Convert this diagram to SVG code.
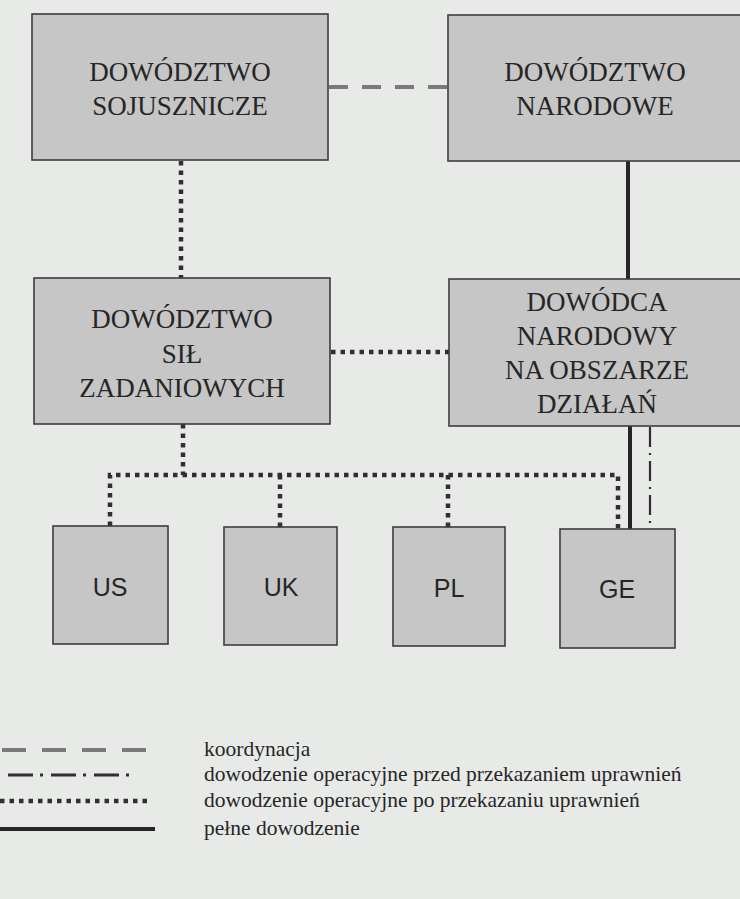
<svg xmlns="http://www.w3.org/2000/svg" width="740" height="899" viewBox="0 0 740 899">
<style>
.bg{fill:#e8eae8}
.box{fill:#c6c6c6;stroke:#3c3c3c;stroke-width:1.6}
.t{font-family:"Liberation Serif","Times New Roman",serif;font-size:27px;fill:#262626;text-anchor:middle}
.s{font-family:"Liberation Sans",Arial,sans-serif;font-size:25px;fill:#262626;text-anchor:middle}
.lg{font-family:"Liberation Serif","Times New Roman",serif;font-size:21.5px;fill:#262626}
.dash{stroke:#7a7a7a;stroke-width:4;stroke-dasharray:19 14;fill:none}
.ldash{stroke:#7a7a7a;stroke-width:4;stroke-dasharray:24 16;fill:none}
.dot{stroke:#2f2f2f;stroke-width:4.5;stroke-dasharray:4.5 5;fill:none}
.solid{stroke:#262626;stroke-width:4;fill:none}
.dd{stroke:#2f2f2f;stroke-width:2.2;stroke-dasharray:20 6 2 6;fill:none}
.ldd{stroke:#2f2f2f;stroke-width:3;stroke-dasharray:25 7 3 8;fill:none}
</style>
<rect class="bg" x="0" y="0" width="740" height="899"/>
<g id="connectors">
<line class="dash" x1="329" y1="87" x2="448" y2="87"/>
<line class="dot" x1="181" y1="161" x2="181" y2="278"/>
<line class="solid" x1="628" y1="161" x2="628" y2="279"/>
<line class="dot" x1="331" y1="352" x2="449" y2="352"/>
<line class="dot" x1="183" y1="424" x2="183" y2="475"/>
<polyline class="dot" points="110,526 110,475 618,475 618,528"/>
<line class="dot" x1="280" y1="475" x2="280" y2="527"/>
<line class="dot" x1="448" y1="475" x2="448" y2="527"/>
<line class="solid" x1="630" y1="426" x2="630" y2="529"/>
<line class="dd" x1="650" y1="427" x2="650" y2="529"/>
</g>
<g id="n-sojusznicze">
<rect class="box" x="32" y="14" width="296" height="146"/>
<text class="t" x="180" y="81">DOWÓDZTWO</text>
<text class="t" x="180" y="115">SOJUSZNICZE</text>
</g>
<g id="n-narodowe">
<rect class="box" x="448" y="15" width="300" height="146"/>
<text class="t" x="595" y="81">DOWÓDZTWO</text>
<text class="t" x="595" y="115">NARODOWE</text>
</g>
<g id="n-sily">
<rect class="box" x="34" y="278" width="296" height="146"/>
<text class="t" x="182" y="328">DOWÓDZTWO</text>
<text class="t" x="182" y="363">SIŁ</text>
<text class="t" x="182" y="397">ZADANIOWYCH</text>
</g>
<g id="n-dowodca">
<rect class="box" x="449" y="279" width="300" height="147"/>
<text class="t" x="597" y="311">DOWÓDCA</text>
<text class="t" x="597" y="345">NARODOWY</text>
<text class="t" x="597" y="379">NA OBSZARZE</text>
<text class="t" x="597" y="413">DZIAŁAŃ</text>
</g>
<g id="n-us">
<rect class="box" x="53" y="526" width="115" height="118"/>
<text class="s" x="110" y="596">US</text>
</g>
<g id="n-uk">
<rect class="box" x="224" y="527" width="113" height="118"/>
<text class="s" x="281" y="596">UK</text>
</g>
<g id="n-pl">
<rect class="box" x="393" y="527" width="112" height="119"/>
<text class="s" x="449" y="597">PL</text>
</g>
<g id="n-ge">
<rect class="box" x="560" y="529" width="115" height="119"/>
<text class="s" x="617" y="598">GE</text>
</g>
<g id="legend">
<line class="ldash" x1="2" y1="750" x2="150" y2="750"/>
<text class="lg" x="204" y="756">koordynacja</text>
<line class="ldd" x1="8" y1="775" x2="131" y2="775"/>
<text class="lg" x="204" y="781">dowodzenie operacyjne przed przekazaniem uprawnień</text>
<line class="dot" x1="0" y1="801" x2="150" y2="801"/>
<text class="lg" x="204" y="807">dowodzenie operacyjne po przekazaniu uprawnień</text>
<line class="solid" x1="0" y1="829" x2="155" y2="829"/>
<text class="lg" x="204" y="835">pełne dowodzenie</text>
</g>
</svg>
